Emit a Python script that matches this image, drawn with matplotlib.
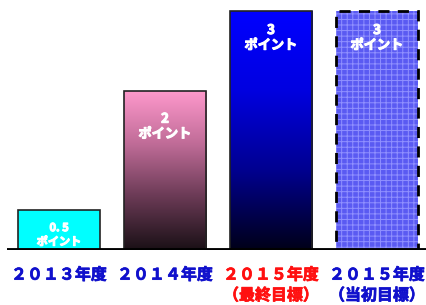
import numpy as np
import matplotlib
matplotlib.use("Agg")
import matplotlib.pyplot as plt
import matplotlib.patheffects as pe
from matplotlib.colors import LinearSegmentedColormap

plt.rcParams['font.family'] = ['Noto Sans CJK JP', 'DejaVu Sans']

years = ["２０１３年度", "２０１４年度", "２０１５年度\n（最終目標）", "２０１５年度\n（当初目標）"]
values = [0.5, 2, 3, 3]
value_labels = ["0. 5", "2", "3", "3"]
unit = "ポイント"
label_colors = ["#1010CC", "#1010CC", "#FF1010", "#1010CC"]

W, H = 427, 305
fig = plt.figure(figsize=(W / 100, H / 100), dpi=100)
px_per_unit = 79.67
base = 55
ax = fig.add_axes([7 / W, base / H, 420 / W, (H - base) / H])
ax.set_xlim((7 - 59) / 106, (427 - 59) / 106)
ax.set_ylim(0, (H - base) / px_per_unit)
ax.axis('off')

width = 0.774
x = np.arange(len(values))

def grad_bar(xc, v, colors):
    bar = ax.bar(xc, v, width=width, color='none', edgecolor='#222222', linewidth=1.2, zorder=3)[0]
    cmap = LinearSegmentedColormap.from_list('g', colors)
    grad = np.linspace(0, 1, 256).reshape(-1, 1)
    im = ax.imshow(grad, extent=[xc - width / 2, xc + width / 2, 0, v], origin='lower',
                   cmap=cmap, aspect='auto', zorder=2)
    im.set_clip_path(bar)
    return bar

# bar 1: solid cyan
ax.bar(x[0], values[0], width=width, color='#00FFFF', edgecolor='#222222', linewidth=1.2, zorder=3)
# bar 2: pink gradient to dark
grad_bar(x[1], values[1], ['#1A1016', '#6A3A55', '#C06C98', '#FF99CC'])
# bar 3: blue gradient to dark
grad_bar(x[2], values[2], ['#000018', '#000090', '#0000E0', '#0000FF'])
# bar 4: patterned with dashed border
plt.rcParams['hatch.linewidth'] = 0.7
ax.bar(x[3], values[3], width=width, facecolor='#5A5AF2', hatch='+++', edgecolor='#9090FF',
       linewidth=0, zorder=3)
ax.bar(x[3], values[3], width=width, color='none', edgecolor='black', linewidth=2,
       linestyle=(0, (4, 3)), zorder=4)

# baseline
ax.axhline(0, color='black', linewidth=3.5, zorder=5)

offsets_px = [11, 21, 12, 12]
for i, v in enumerate(values):
    fs = 8 if i == 0 else 9.5
    ax.annotate(value_labels[i] + "\n" + unit, (x[i], v), xytext=(0, -offsets_px[i] * 0.72),
                textcoords='offset points', ha='center', va='top', color='white',
                fontsize=fs, fontweight='bold', linespacing=1.1, zorder=6,
                path_effects=[pe.withStroke(linewidth=0.8, foreground='white')])

for i, lab in enumerate(years):
    ax.annotate(lab, (x[i], 0), xytext=(0, -12), textcoords='offset points',
                ha='center', va='top', color=label_colors[i], fontsize=11.5, fontweight='bold',
                linespacing=1.35, annotation_clip=False,
                path_effects=[pe.withStroke(linewidth=0.5, foreground=label_colors[i])])

fig.savefig('out.png', dpi=100)
